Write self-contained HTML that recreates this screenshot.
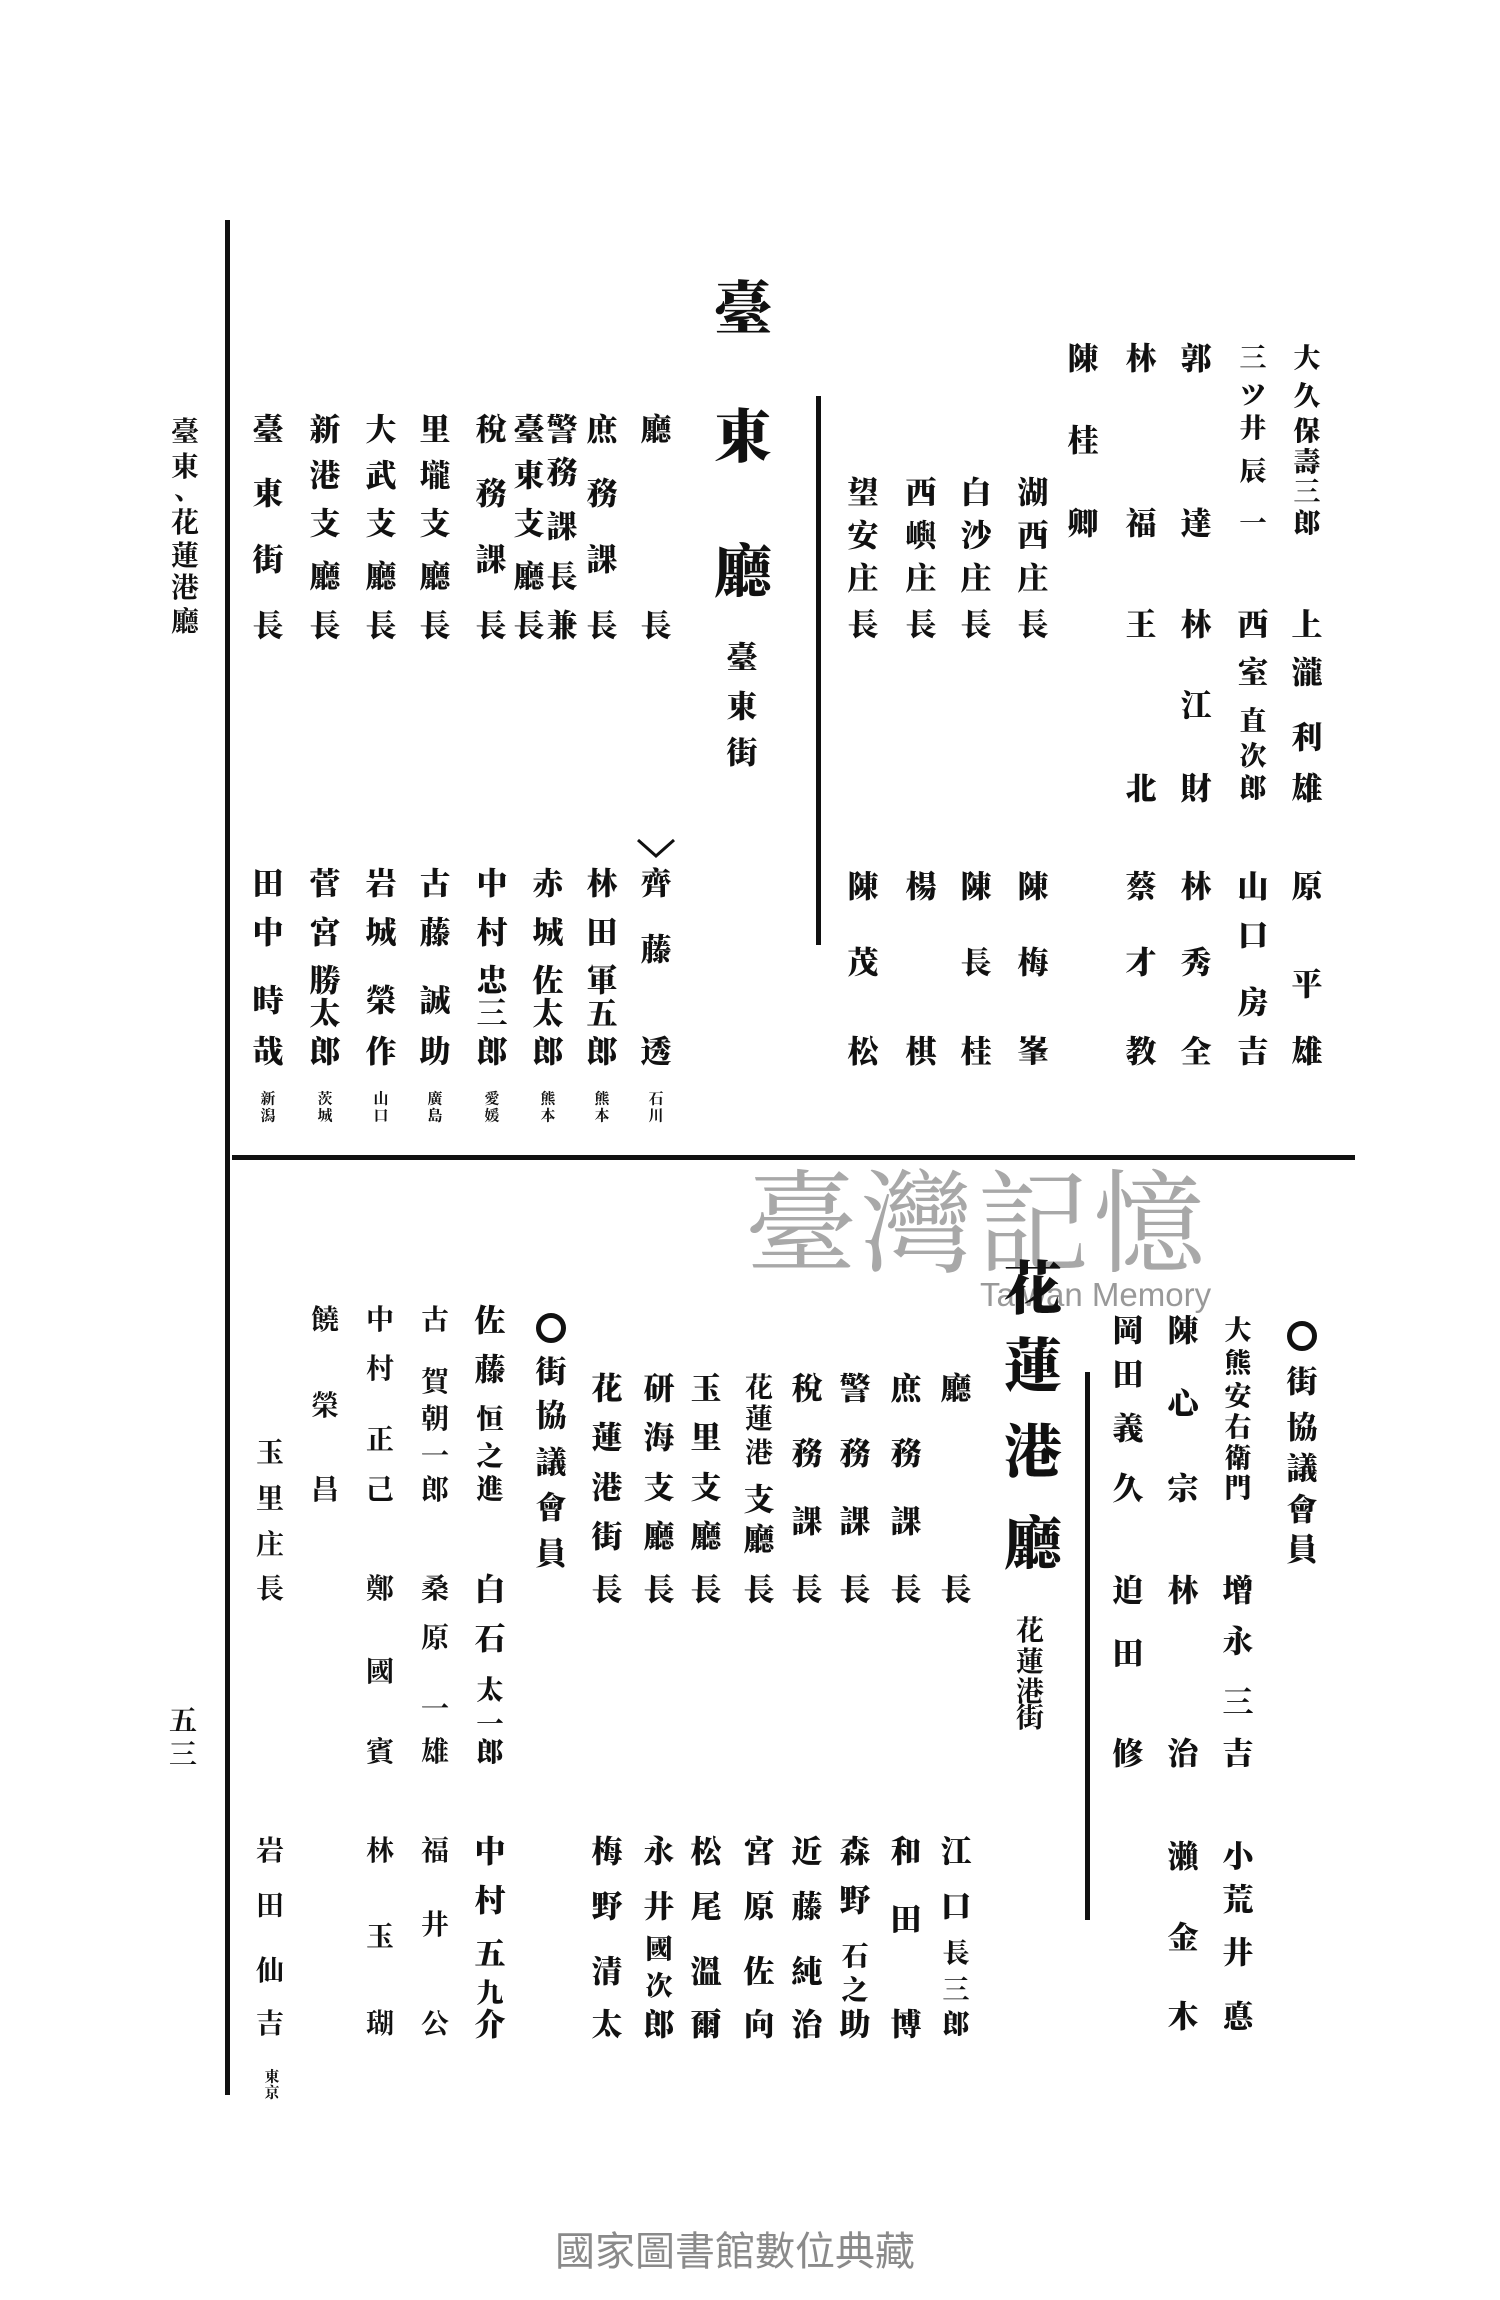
<!DOCTYPE html>
<html><head><meta charset="utf-8"><style>
html,body{margin:0;padding:0;background:#fff}
#p{position:relative;width:1500px;height:2300px;overflow:hidden;background:#fff;font-family:"Liberation Serif","Noto Serif CJK SC","Noto Sans CJK TC",serif;color:#111;font-weight:900}
#p i{position:absolute;transform:translate(-50%,-50%);font-style:normal;font-size:31px;line-height:1;white-space:nowrap}
#p i.s{font-size:27px}
#p i.t{font-size:15px;font-weight:700}
#p i.b{font-size:58px}
#p i.m{font-size:28px;font-weight:700}
#p i.o{width:20px;height:20px;border:5px solid #111;border-radius:50%;font-size:0}
.ln{position:absolute;background:#111}
.wm{position:absolute;color:#a8a8a8;font-weight:400}
</style></head><body><div id="p">
<div class="ln" style="left:225px;top:220px;width:5px;height:1875px"></div>
<div class="ln" style="left:232px;top:1155px;width:1123px;height:5px"></div>
<div class="ln" style="left:816px;top:396px;width:5px;height:549px"></div>
<div class="ln" style="left:1085px;top:1372px;width:5px;height:548px"></div>

<div class="wm" style="left:745px;top:1160px;font-size:112px;font-family:'Noto Serif CJK SC',serif;letter-spacing:4px;line-height:1">臺灣記憶</div>
<div class="wm" style="left:980px;top:1276px;font-size:33px;font-family:'Liberation Sans',sans-serif;color:#999">Taiwan Memory</div>
<div class="wm" style="left:555px;top:2228px;font-size:40px;font-family:'Noto Sans CJK TC','Noto Sans CJK SC',sans-serif;color:#8a8a8a;line-height:1">國家圖書館數位典藏</div>

<!-- running header -->
<i class="m" style="left:185px;top:433px">臺</i><i class="m" style="left:185px;top:468px">東</i><i class="m" style="left:188px;top:491px">、</i><i class="m" style="left:185px;top:524px">花</i><i class="m" style="left:185px;top:557px">蓮</i><i class="m" style="left:185px;top:589px">港</i><i class="m" style="left:185px;top:623px">廳</i>
<i class="m" style="left:183px;top:1722px">五</i><i class="m" style="left:183px;top:1756px">三</i>

<!-- top right -->
<i class="s" style="left:1307px;top:359px">大</i><i class="s" style="left:1307px;top:397px">久</i><i class="s" style="left:1307px;top:432px">保</i><i class="s" style="left:1307px;top:463px">壽</i><i class="s" style="left:1307px;top:493px">三</i><i class="s" style="left:1307px;top:524px">郎</i>
<i style="left:1307px;top:625px">上</i><i style="left:1307px;top:673px">瀧</i><i style="left:1307px;top:738px">利</i><i style="left:1307px;top:789px">雄</i><i style="left:1307px;top:887px">原</i><i style="left:1307px;top:985px">平</i><i style="left:1307px;top:1052px">雄</i>
<i class="s" style="left:1253px;top:359px">三</i><i class="s" style="left:1253px;top:396px">ツ</i><i class="s" style="left:1253px;top:429px">井</i><i class="s" style="left:1253px;top:472px">辰</i><i class="s" style="left:1253px;top:524px">一</i>
<i style="left:1253px;top:625px">西</i><i style="left:1253px;top:673px">室</i><i class="s" style="left:1253px;top:722px">直</i><i class="s" style="left:1253px;top:757px">次</i><i class="s" style="left:1253px;top:789px">郎</i><i style="left:1253px;top:887px">山</i><i style="left:1253px;top:936px">口</i><i style="left:1253px;top:1003px">房</i><i style="left:1253px;top:1052px">吉</i>
<i style="left:1196px;top:359px">郭</i><i style="left:1196px;top:524px">達</i><i style="left:1196px;top:625px">林</i><i style="left:1196px;top:706px">江</i><i style="left:1196px;top:789px">財</i><i style="left:1196px;top:887px">林</i><i style="left:1196px;top:963px">秀</i><i style="left:1196px;top:1052px">全</i>
<i style="left:1141px;top:359px">林</i><i style="left:1141px;top:524px">福</i><i style="left:1141px;top:625px">王</i><i style="left:1141px;top:789px">北</i><i style="left:1141px;top:887px">蔡</i><i style="left:1141px;top:963px">才</i><i style="left:1141px;top:1052px">教</i>
<i style="left:1083px;top:359px">陳</i><i style="left:1083px;top:441px">桂</i><i style="left:1083px;top:524px">卿</i>
<i style="left:1033px;top:493px">湖</i><i style="left:1033px;top:536px">西</i><i style="left:1033px;top:579px">庄</i><i style="left:1033px;top:625px">長</i><i style="left:1033px;top:887px">陳</i><i style="left:1033px;top:963px">梅</i><i style="left:1033px;top:1052px">峯</i>
<i style="left:976px;top:493px">白</i><i style="left:976px;top:536px">沙</i><i style="left:976px;top:579px">庄</i><i style="left:976px;top:625px">長</i><i style="left:976px;top:887px">陳</i><i style="left:976px;top:963px">長</i><i style="left:976px;top:1052px">桂</i>
<i style="left:921px;top:493px">西</i><i style="left:921px;top:536px">嶼</i><i style="left:921px;top:579px">庄</i><i style="left:921px;top:625px">長</i><i style="left:921px;top:887px">楊</i><i style="left:921px;top:1052px">棋</i>
<i style="left:863px;top:493px">望</i><i style="left:863px;top:536px">安</i><i style="left:863px;top:579px">庄</i><i style="left:863px;top:625px">長</i><i style="left:863px;top:887px">陳</i><i style="left:863px;top:963px">茂</i><i style="left:863px;top:1052px">松</i>

<i class="b" style="left:743px;top:310px">臺</i><i class="b" style="left:743px;top:438px">東</i><i class="b" style="left:743px;top:573px">廳</i>
<i style="left:742px;top:658px">臺</i><i style="left:742px;top:707px">東</i><i style="left:742px;top:753px">街</i>

<!-- top left -->
<i style="left:656px;top:430px">廳</i><i style="left:656px;top:626px">長</i>
<svg style="position:absolute;left:636px;top:838px" width="40" height="22"><polyline points="2,2 20,18 38,2" fill="none" stroke="#111" stroke-width="3"/></svg>
<i style="left:656px;top:884px">齊</i><i style="left:656px;top:950px">藤</i><i style="left:656px;top:1052px">透</i><i class="t" style="left:656px;top:1100px">石</i><i class="t" style="left:656px;top:1117px">川</i>
<i style="left:602px;top:430px">庶</i><i style="left:602px;top:494px">務</i><i style="left:602px;top:560px">課</i><i style="left:602px;top:626px">長</i>
<i style="left:602px;top:884px">林</i><i style="left:602px;top:933px">田</i><i style="left:602px;top:981px">軍</i><i style="left:602px;top:1014px">五</i><i style="left:602px;top:1052px">郎</i><i class="t" style="left:602px;top:1100px">熊</i><i class="t" style="left:602px;top:1117px">本</i>
<i style="left:562px;top:430px">警</i><i style="left:562px;top:473px">務</i><i style="left:562px;top:527px">課</i><i style="left:562px;top:577px">長</i><i style="left:562px;top:626px">兼</i>
<i style="left:529px;top:430px">臺</i><i style="left:529px;top:476px">東</i><i style="left:529px;top:524px">支</i><i style="left:529px;top:577px">廳</i><i style="left:529px;top:626px">長</i>
<i style="left:548px;top:884px">赤</i><i style="left:548px;top:933px">城</i><i style="left:548px;top:981px">佐</i><i style="left:548px;top:1014px">太</i><i style="left:548px;top:1052px">郎</i><i class="t" style="left:548px;top:1100px">熊</i><i class="t" style="left:548px;top:1117px">本</i>
<i style="left:491px;top:430px">稅</i><i style="left:491px;top:494px">務</i><i style="left:491px;top:560px">課</i><i style="left:491px;top:626px">長</i>
<i style="left:492px;top:884px">中</i><i style="left:492px;top:933px">村</i><i style="left:492px;top:981px">忠</i><i style="left:492px;top:1014px">三</i><i style="left:492px;top:1052px">郎</i><i class="t" style="left:492px;top:1100px">愛</i><i class="t" style="left:492px;top:1117px">媛</i>
<i style="left:435px;top:430px">里</i><i style="left:435px;top:476px">壠</i><i style="left:435px;top:524px">支</i><i style="left:435px;top:577px">廳</i><i style="left:435px;top:626px">長</i>
<i style="left:435px;top:884px">古</i><i style="left:435px;top:933px">藤</i><i style="left:435px;top:1001px">誠</i><i style="left:435px;top:1052px">助</i><i class="t" style="left:435px;top:1100px">廣</i><i class="t" style="left:435px;top:1117px">島</i>
<i style="left:381px;top:430px">大</i><i style="left:381px;top:476px">武</i><i style="left:381px;top:524px">支</i><i style="left:381px;top:577px">廳</i><i style="left:381px;top:626px">長</i>
<i style="left:381px;top:884px">岩</i><i style="left:381px;top:933px">城</i><i style="left:381px;top:1001px">榮</i><i style="left:381px;top:1052px">作</i><i class="t" style="left:381px;top:1100px">山</i><i class="t" style="left:381px;top:1117px">口</i>
<i style="left:325px;top:430px">新</i><i style="left:325px;top:476px">港</i><i style="left:325px;top:524px">支</i><i style="left:325px;top:577px">廳</i><i style="left:325px;top:626px">長</i>
<i style="left:325px;top:884px">菅</i><i style="left:325px;top:933px">宮</i><i style="left:325px;top:981px">勝</i><i style="left:325px;top:1014px">太</i><i style="left:325px;top:1052px">郎</i><i class="t" style="left:325px;top:1100px">茨</i><i class="t" style="left:325px;top:1117px">城</i>
<i style="left:268px;top:430px">臺</i><i style="left:268px;top:494px">東</i><i style="left:268px;top:560px">街</i><i style="left:268px;top:626px">長</i>
<i style="left:268px;top:884px">田</i><i style="left:268px;top:933px">中</i><i style="left:268px;top:1001px">時</i><i style="left:268px;top:1052px">哉</i><i class="t" style="left:268px;top:1100px">新</i><i class="t" style="left:268px;top:1117px">潟</i>

<!-- bottom right -->
<i class="o" style="left:1302px;top:1336px">○</i><i style="left:1302px;top:1382px">街</i><i style="left:1302px;top:1428px">協</i><i style="left:1302px;top:1469px">議</i><i style="left:1302px;top:1510px">會</i><i style="left:1302px;top:1550px">員</i>
<i class="s" style="left:1238px;top:1331px">大</i><i class="s" style="left:1238px;top:1364px">熊</i><i class="s" style="left:1238px;top:1397px">安</i><i class="s" style="left:1238px;top:1428px">右</i><i class="s" style="left:1238px;top:1459px">衛</i><i class="s" style="left:1238px;top:1489px">門</i>
<i style="left:1238px;top:1591px">增</i><i style="left:1238px;top:1642px">永</i><i style="left:1238px;top:1703px">三</i><i style="left:1238px;top:1754px">吉</i><i style="left:1238px;top:1857px">小</i><i style="left:1238px;top:1900px">荒</i><i style="left:1238px;top:1953px">井</i><i style="left:1238px;top:2017px">悳</i>
<i style="left:1183px;top:1331px">陳</i><i style="left:1183px;top:1404px">心</i><i style="left:1183px;top:1489px">宗</i><i style="left:1183px;top:1591px">林</i><i style="left:1183px;top:1754px">治</i><i style="left:1183px;top:1857px">瀨</i><i style="left:1183px;top:1938px">金</i><i style="left:1183px;top:2017px">木</i>
<i style="left:1128px;top:1331px">岡</i><i style="left:1128px;top:1375px">田</i><i style="left:1128px;top:1429px">義</i><i style="left:1128px;top:1489px">久</i><i style="left:1128px;top:1591px">迫</i><i style="left:1128px;top:1654px">田</i><i style="left:1128px;top:1754px">修</i>
<i class="b" style="left:1033px;top:1290px">花</i><i class="b" style="left:1033px;top:1367px">蓮</i><i class="b" style="left:1033px;top:1453px">港</i><i class="b" style="left:1033px;top:1545px">廳</i>
<i class="m" style="left:1030px;top:1632px">花</i><i class="m" style="left:1030px;top:1663px">蓮</i><i class="m" style="left:1030px;top:1693px">港</i><i class="m" style="left:1030px;top:1719px">街</i>

<!-- bottom columns -->
<i style="left:956px;top:1389px">廳</i><i style="left:956px;top:1590px">長</i>
<i style="left:956px;top:1852px">江</i><i style="left:956px;top:1907px">口</i><i class="s" style="left:956px;top:1954px">長</i><i class="s" style="left:956px;top:1991px">三</i><i class="s" style="left:956px;top:2025px">郎</i>
<i style="left:906px;top:1389px">庶</i><i style="left:906px;top:1454px">務</i><i style="left:906px;top:1522px">課</i><i style="left:906px;top:1590px">長</i>
<i style="left:906px;top:1852px">和</i><i style="left:906px;top:1920px">田</i><i style="left:906px;top:2025px">博</i>
<i style="left:855px;top:1389px">警</i><i style="left:855px;top:1454px">務</i><i style="left:855px;top:1522px">課</i><i style="left:855px;top:1590px">長</i>
<i style="left:855px;top:1852px">森</i><i style="left:855px;top:1901px">野</i><i class="s" style="left:855px;top:1957px">石</i><i class="s" style="left:855px;top:1991px">之</i><i style="left:855px;top:2025px">助</i>
<i style="left:807px;top:1389px">稅</i><i style="left:807px;top:1454px">務</i><i style="left:807px;top:1522px">課</i><i style="left:807px;top:1590px">長</i>
<i style="left:807px;top:1852px">近</i><i style="left:807px;top:1907px">藤</i><i style="left:807px;top:1972px">純</i><i style="left:807px;top:2025px">治</i>
<i class="m" style="left:759px;top:1389px">花</i><i class="m" style="left:759px;top:1420px">蓮</i><i class="m" style="left:759px;top:1454px">港</i><i style="left:759px;top:1500px">支</i><i style="left:759px;top:1540px">廳</i><i style="left:759px;top:1590px">長</i>
<i style="left:759px;top:1852px">宮</i><i style="left:759px;top:1907px">原</i><i style="left:759px;top:1972px">佐</i><i style="left:759px;top:2025px">向</i>
<i style="left:706px;top:1389px">玉</i><i style="left:706px;top:1438px">里</i><i style="left:706px;top:1488px">支</i><i style="left:706px;top:1537px">廳</i><i style="left:706px;top:1590px">長</i>
<i style="left:706px;top:1852px">松</i><i style="left:706px;top:1907px">尾</i><i style="left:706px;top:1972px">溫</i><i style="left:706px;top:2025px">爾</i>
<i style="left:659px;top:1389px">研</i><i style="left:659px;top:1438px">海</i><i style="left:659px;top:1488px">支</i><i style="left:659px;top:1537px">廳</i><i style="left:659px;top:1590px">長</i>
<i style="left:659px;top:1852px">永</i><i style="left:659px;top:1907px">井</i><i class="s" style="left:659px;top:1950px">國</i><i class="s" style="left:659px;top:1987px">次</i><i style="left:659px;top:2025px">郎</i>
<i style="left:607px;top:1389px">花</i><i style="left:607px;top:1438px">蓮</i><i style="left:607px;top:1488px">港</i><i style="left:607px;top:1537px">街</i><i style="left:607px;top:1590px">長</i>
<i style="left:607px;top:1852px">梅</i><i style="left:607px;top:1907px">野</i><i style="left:607px;top:1972px">清</i><i style="left:607px;top:2025px">太</i>
<i class="o" style="left:551px;top:1328px">○</i><i style="left:551px;top:1372px">街</i><i style="left:551px;top:1416px">協</i><i style="left:551px;top:1463px">議</i><i style="left:551px;top:1508px">會</i><i style="left:551px;top:1554px">員</i>
<i style="left:490px;top:1321px">佐</i><i style="left:490px;top:1370px">藤</i><i class="s" style="left:490px;top:1420px">恒</i><i class="s" style="left:490px;top:1457px">之</i><i class="s" style="left:490px;top:1490px">進</i>
<i style="left:490px;top:1590px">白</i><i style="left:490px;top:1639px">石</i><i class="s" style="left:490px;top:1691px">太</i><i class="s" style="left:490px;top:1725px">一</i><i class="s" style="left:490px;top:1753px">郎</i>
<i style="left:490px;top:1852px">中</i><i style="left:490px;top:1901px">村</i><i style="left:490px;top:1954px">五</i><i class="s" style="left:490px;top:1994px">九</i><i style="left:490px;top:2025px">介</i>
<i class="m" style="left:435px;top:1321px">古</i><i class="m" style="left:435px;top:1383px">賀</i><i class="m" style="left:435px;top:1420px">朝</i><i class="m" style="left:435px;top:1457px">一</i><i class="m" style="left:435px;top:1491px">郎</i>
<i class="m" style="left:435px;top:1590px">桑</i><i class="m" style="left:435px;top:1639px">原</i><i class="m" style="left:435px;top:1710px">一</i><i class="m" style="left:435px;top:1753px">雄</i>
<i class="m" style="left:435px;top:1852px">福</i><i class="m" style="left:435px;top:1926px">井</i><i class="m" style="left:435px;top:2025px">公</i>
<i class="m" style="left:380px;top:1321px">中</i><i class="m" style="left:380px;top:1370px">村</i><i class="m" style="left:380px;top:1441px">正</i><i class="m" style="left:380px;top:1491px">己</i>
<i class="m" style="left:380px;top:1590px">鄭</i><i class="m" style="left:380px;top:1673px">國</i><i class="m" style="left:380px;top:1753px">賓</i>
<i class="m" style="left:380px;top:1852px">林</i><i class="m" style="left:380px;top:1938px">玉</i><i class="m" style="left:380px;top:2025px">瑚</i>
<i class="m" style="left:325px;top:1321px">饒</i><i class="m" style="left:325px;top:1407px">榮</i><i class="m" style="left:325px;top:1491px">昌</i>
<i class="m" style="left:270px;top:1454px">玉</i><i class="m" style="left:270px;top:1500px">里</i><i class="m" style="left:270px;top:1546px">庄</i><i class="m" style="left:270px;top:1590px">長</i>
<i class="m" style="left:270px;top:1852px">岩</i><i class="m" style="left:270px;top:1907px">田</i><i class="m" style="left:270px;top:1972px">仙</i><i class="m" style="left:270px;top:2025px">吉</i><i class="t" style="left:272px;top:2078px">東</i><i class="t" style="left:272px;top:2094px">京</i>
</div></body></html>
